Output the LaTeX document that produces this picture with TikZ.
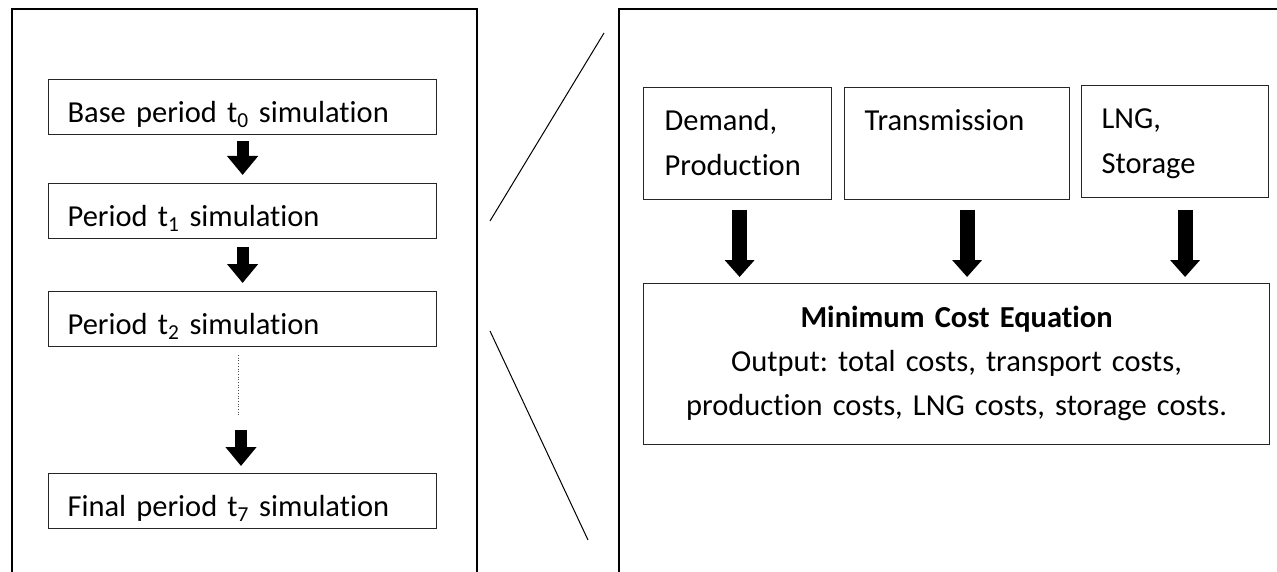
\documentclass[tikz,border=0pt]{standalone}
\usepackage{fontspec}
\setmainfont{Carlito}[Ligatures={NoCommon}]
\frenchspacing
\usetikzlibrary{arrows.meta, calc}

\begin{document}
\begin{tikzpicture}[x=1pt, y=-1pt, line join=miter,
    frame/.style={line width=2.5pt},
    stage/.style={draw=black!85, line width=1.2pt, anchor=north west, align=left,
      inner xsep=19pt, inner ysep=0pt, text height=43pt, text depth=12pt,
      text width=350pt, font=\fontsize{30.5}{44}\selectfont},
    part/.style={draw=black!85, line width=1.2pt, anchor=north west, align=left,
      inner xsep=20pt, inner ysep=0pt, text height=43pt, text depth=69pt,
      font=\fontsize{30.5}{45}\selectfont},
    bigarrow/.style={line width=12pt, -{Triangle[width=30pt, length=19pt]}},
    feedarrow/.style={line width=15pt, -{Triangle[width=29pt, length=17pt]}}]
    \useasboundingbox (0,0) rectangle (1277,572);

    % outer panels
    \draw[frame] (12,572) -- (12,9) -- (477,9) -- (477,572);
    \draw[frame] (619,572) -- (619,9) -- (1277,9);

    % zoom lines
    \draw[line width=1pt] (490,221) -- (604,33);
    \draw[line width=1pt] (490,331) -- (588,540);

    % periods
    \node[stage] (t0) at (48,79)  {Base period t\textsubscript{0} simulation};
    \node[stage] (t1) at (48,183) {Period t\textsubscript{1} simulation};
    \node[stage] (t2) at (48,291) {Period t\textsubscript{2} simulation};
    \node[stage] (t7) at (48,473) {Final period t\textsubscript{7} simulation};
    \coordinate (dots top) at (238,355);
    \coordinate (dots end) at (238,417);
    \coordinate (last in) at (241,430);

    \draw[bigarrow, shorten <=6pt, shorten >=8pt] (t0) -- (t1);
    \draw[bigarrow, shorten <=8pt, shorten >=8pt] (t1) -- (t2);
    \draw[dotted, line width=0.7pt, black!70] (dots top) -- (dots end);
    \draw[bigarrow, shorten >=7pt] (last in) -- (last in |- t7.north);

    % one period in detail
    \node[part, inner xsep=21pt, text width=146pt] (dem) at (643,87)  {Demand,\\Production};
    \node[part, text width=185pt] (trans) at (844,87)  {Transmission};
    \node[part, text width=147pt] (lng)   at (1081,85) {LNG,\\Storage};
    \node[draw=black!85, line width=1.2pt, anchor=north west, align=center,
      inner xsep=16pt, inner ysep=0pt, text width=594pt, text height=44pt,
      text depth=117pt, font=\fontsize{30.5}{44}\selectfont] (mce) at (643,283)
      {\textbf{Minimum Cost Equation}\\Output: total costs, transport costs,\\production costs, LNG costs, storage costs.};

    \draw[feedarrow, shorten <=10pt, shorten >=6pt] ([xshift=2pt]dem.south) -- ([xshift=2pt]dem.south |- mce.north);
    \draw[feedarrow, shorten <=10pt, shorten >=6pt] ([xshift=10pt]trans.south) -- ([xshift=10pt]trans.south |- mce.north);
    \draw[feedarrow, shorten <=12pt, shorten >=6pt] ([xshift=10pt]lng.south) -- ([xshift=10pt]lng.south |- mce.north);
\end{tikzpicture}
\end{document}
